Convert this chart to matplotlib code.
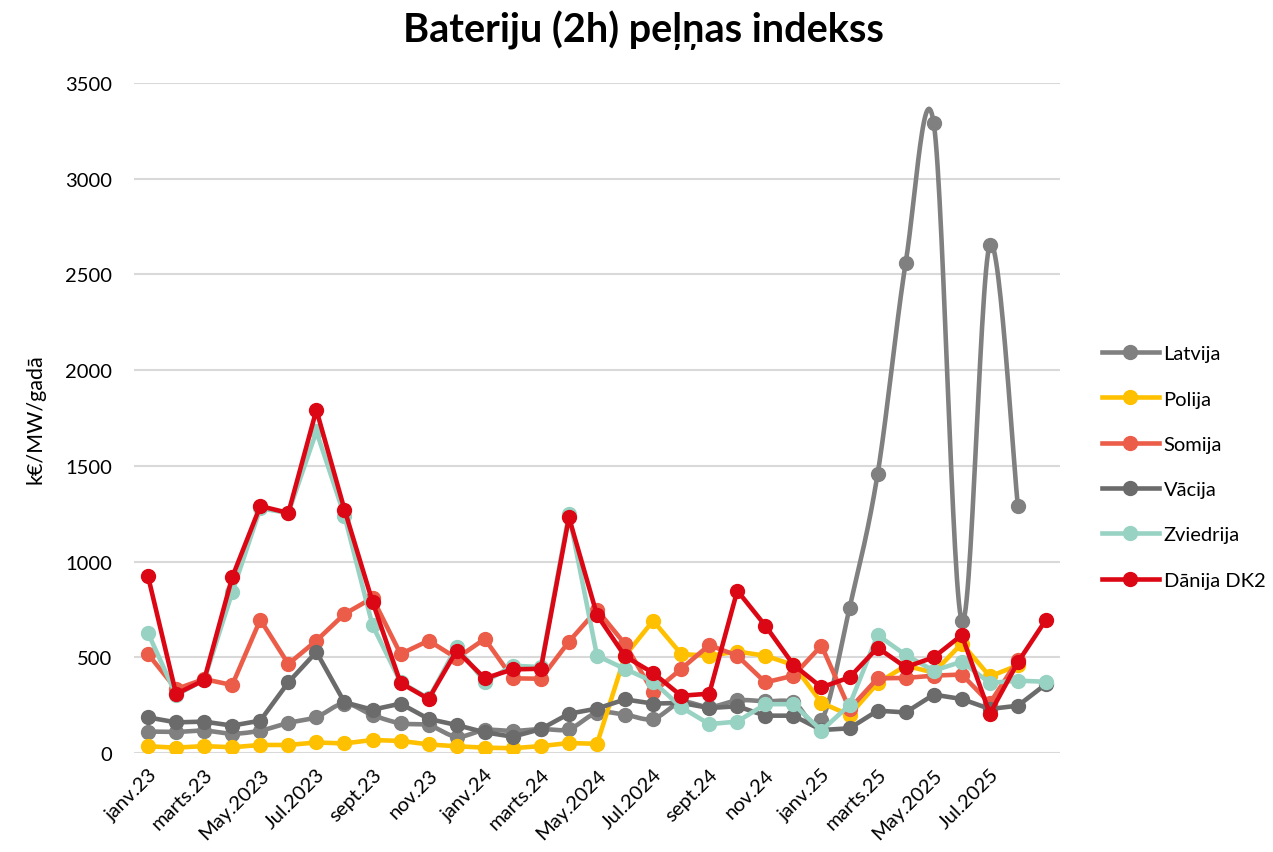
import numpy as np
import matplotlib
matplotlib.use("Agg")
import matplotlib.pyplot as plt
from matplotlib.lines import Line2D

plt.rcParams['font.family'] = ['Lato', 'DejaVu Sans']

months = ["janv.23", "febr.23", "marts.23", "apr.23", "May.2023", "jūn.23", "Jul.2023", "aug.23",
          "sept.23", "okt.23", "nov.23", "dec.23", "janv.24", "febr.24", "marts.24", "apr.24",
          "May.2024", "jūn.24", "Jul.2024", "aug.24", "sept.24", "okt.24", "nov.24", "dec.24",
          "janv.25", "febr.25", "marts.25", "apr.25", "May.2025", "jūn.25", "Jul.2025", "aug.25",
          "sept.25"]
tick_labels = ["janv.23", "marts.23", "May.2023", "Jul.2023", "sept.23", "nov.23", "janv.24",
               "marts.24", "May.2024", "Jul.2024", "sept.24", "nov.24", "janv.25", "marts.25",
               "May.2025", "Jul.2025"]

latvija = [112, 110, 117, 101, 117, 157, 188, 258, 198, 155, 145, 85, 120, 115, 125, 125,
           210, 200, 178, 265, 240, 275, 270, 265, 170, 758, 1457, 2560, 3290, 691, 2654, 1288]
polija = [35, 28, 36, 30, 42, 42, 55, 50, 68, 63, 45, 35, 28, 25, 36, 52,
          48, 508, 691, 517, 508, 530, 508, 460, 262, 198, 365, 456, 420, 572, 400, 458]
somija = [517, 334, 386, 355, 696, 465, 587, 726, 810, 517, 587, 495, 596, 390, 388, 582,
          748, 569, 317, 439, 564, 508, 369, 404, 561, 230, 390, 392, 404, 410, 260, 485]
vacija = [186, 160, 164, 143, 169, 369, 528, 265, 226, 258, 178, 146, 108, 85, 125, 205,
          232, 280, 258, 262, 235, 244, 195, 195, 120, 129, 221, 212, 305, 282, 230, 247, 360]
zviedrija = [627, 303, 381, 839, 1278, 1254, 1680, 1240, 667, 370, 285, 555, 372, 456, 449, 1248,
             508, 439, 373, 239, 151, 164, 255, 255, 117, 251, 616, 512, 430, 477, 366, 378, 372]
danija = [923, 308, 381, 918, 1290, 1254, 1792, 1272, 790, 366, 282, 535, 390, 437, 440, 1231,
          721, 505, 418, 299, 310, 848, 665, 461, 343, 395, 550, 448, 500, 616, 205, 474, 696]

series = [
    ("Latvija", latvija, "#808080", True),
    ("Polija", polija, "#FFC000", False),
    ("Somija", somija, "#EC5D49", False),
    ("Vācija", vacija, "#6B6B6B", False),
    ("Zviedrija", zviedrija, "#98D2C3", False),
    ("Dānija DK2", danija, "#DC0714", False),
]


def smooth(xs, ys, n=30):
    xs = np.asarray(xs, float)
    ys = np.asarray(ys, float)
    px = np.concatenate([[xs[0]], xs, [xs[-1]]])
    py = np.concatenate([[ys[0]], ys, [ys[-1]]])
    outx, outy = [], []
    t = np.linspace(0, 1, n)
    for i in range(1, len(px) - 2):
        p0x, p1x, p2x, p3x = px[i - 1], px[i], px[i + 1], px[i + 2]
        p0y, p1y, p2y, p3y = py[i - 1], py[i], py[i + 1], py[i + 2]
        c1x = p1x + (p2x - p0x) / 6
        c1y = p1y + (p2y - p0y) / 6
        c2x = p2x - (p3x - p1x) / 6
        c2y = p2y - (p3y - p1y) / 6
        bx = (1 - t) ** 3 * p1x + 3 * (1 - t) ** 2 * t * c1x + 3 * (1 - t) * t ** 2 * c2x + t ** 3 * p2x
        by = (1 - t) ** 3 * p1y + 3 * (1 - t) ** 2 * t * c1y + 3 * (1 - t) * t ** 2 * c2y + t ** 3 * p2y
        outx.extend(bx)
        outy.extend(by)
    return np.array(outx), np.array(outy)


fig = plt.figure(figsize=(12.73, 8.53), dpi=100)
ax = fig.add_axes([134 / 1273, 1 - 754 / 853, (1060 - 134) / 1273, (754 - 84) / 853])

lw = 3.3
ms = 10.0
handles = []
for name, vals, col, sm in series:
    x = np.arange(len(vals))
    if sm:
        sx, sy = smooth(x, vals)
        ax.plot(sx, sy, color=col, lw=lw, solid_capstyle='round', zorder=3)
    else:
        ax.plot(x, vals, color=col, lw=lw, solid_joinstyle='round', solid_capstyle='round', zorder=3)
    ax.plot(x, vals, 'o', color=col, ms=ms, zorder=3)
    handles.append(Line2D([0], [0], color=col, lw=lw, marker='o', ms=ms))

ax.set_xlim(-0.5, len(months) - 0.5)
ax.set_ylim(0, 3500)
ax.set_yticks(np.arange(0, 3501, 500))
ax.tick_params(axis='y', labelsize=14.5, length=0, pad=16, labelcolor='#000000')
ax.set_xticks(np.arange(0, len(tick_labels) * 2, 2))
ax.set_xticklabels(tick_labels, rotation=45, ha='right', va='top', rotation_mode='anchor', fontsize=14.5)
ax.tick_params(axis='x', length=0, pad=9)
ax.grid(axis='y', color='#D9D9D9', lw=1.5)
ax.set_axisbelow(True)
for s in ax.spines.values():
    s.set_visible(False)

ax.set_ylabel("k€/MW/gadā", fontsize=15.5, labelpad=14)
fig.text(643 / 1273, 1 - 30 / 853, "Bateriju (2h) peļņas indekss", ha='center', va='center',
         fontsize=28.5, fontweight='bold')

fig.legend(handles, [s[0] for s in series], loc='upper left',
           bbox_to_anchor=(1084 / 1273, 1 - 328 / 853), frameon=False, fontsize=14.5,
           handlelength=2.8, labelspacing=1.4, handletextpad=0.25)

fig.savefig("out.png", dpi=100)
